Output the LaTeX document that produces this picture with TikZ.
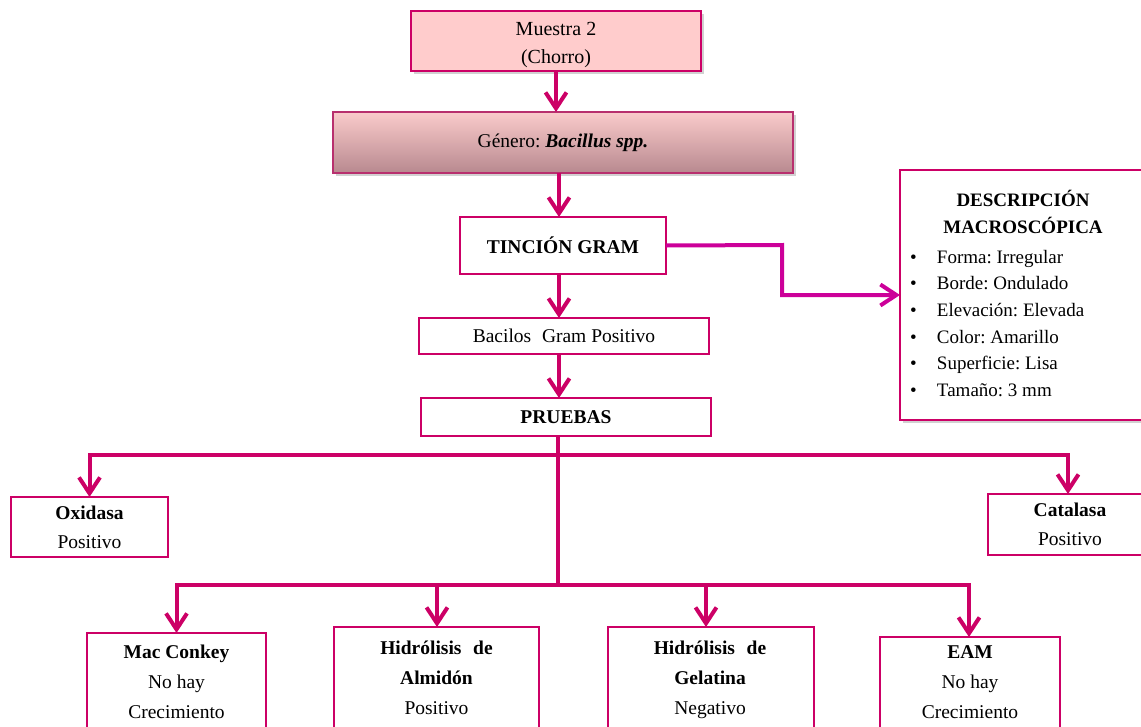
\documentclass[tikz,border=0pt]{standalone}
\usepackage{fontspec}
\setmainfont{Liberation Serif}
\usetikzlibrary{arrows.meta,shadows}
\frenchspacing

\definecolor{mag}{HTML}{CC0066}
\definecolor{magp}{HTML}{CC0099}
\definecolor{pinkfill}{HTML}{FFCCCC}
\definecolor{gtop}{HTML}{FACBCB}
\definecolor{gbot}{HTML}{B8898F}
\definecolor{gborder}{HTML}{B8306E}

\tikzset{
  box/.style={draw=mag, line width=2.5pt, fill=white, rectangle,
    inner sep=0pt, outer sep=0pt, align=center,
    font=\fontsize{19.5}{27}\selectfont},
  softshadow/.style={drop shadow={shadow xshift=3pt, shadow yshift=-3pt,
    fill=black, opacity=0.18}},
  txt/.style={inner sep=0pt, outer sep=0pt, align=center,
    font=\fontsize{19.5}{30}\selectfont},
  link/.style={draw=mag, line width=4pt, line join=miter},
  conn/.style={link, -{Straight Barb[length=16pt,width=21pt]}},
  connp/.style={draw=magp, line width=4pt, line join=miter,
    -{Straight Barb[length=16pt,width=21pt]}},
}

\begin{document}
\begin{tikzpicture}[x=1pt,y=-1pt]
\useasboundingbox (0,0) rectangle (1141,726);

% --- main column ---
\node[box, fill=pinkfill, softshadow, minimum width=290pt, minimum height=60pt]
  (muestra) at (556,41) {};
\node[txt, font=\fontsize{20}{28}\selectfont]
  (muestrat) at (556,45) {Muestra 2\\(Chorro)};
\node[box, draw=gborder, top color=gtop, bottom color=gbot, softshadow,
      minimum width=460pt, minimum height=61pt]
  (genero) at (563,142.5) {Género: \textbf{\textit{Bacillus spp.}}};
\node[box, minimum width=206pt, minimum height=57pt]
  (tincion) at (563,245.5) {\textbf{TINCIÓN GRAM}};
\node[box, minimum width=290pt, minimum height=36pt]
  (bacilos) at (564,336) {Bacilos\hspace{0.3em} Gram Positivo};
\node[box, minimum width=290pt, minimum height=38pt]
  (pruebas) at (566,417) {\textbf{PRUEBAS}};

% --- macroscopic description panel ---
\node[box, softshadow, minimum width=252pt, minimum height=250pt]
  (desc) at (1026,295) {};
\node[txt, font=\fontsize{19}{27}\selectfont, anchor=north]
  (desctitle) at (1023,190) {\textbf{DESCRIPCIÓN}\\\textbf{MACROSCÓPICA}};
\node[txt, font=\fontsize{19}{26.7}\selectfont, align=left, anchor=north west]
  (desclist) at (910,250) {%
  \makebox[27pt][l]{\textbullet}Forma: Irregular\\
  \makebox[27pt][l]{\textbullet}Borde: Ondulado\\
  \makebox[27pt][l]{\textbullet}Elevación: Elevada\\
  \makebox[27pt][l]{\textbullet}Color: Amarillo\\
  \makebox[27pt][l]{\textbullet}Superficie: Lisa\\
  \makebox[27pt][l]{\textbullet}Tamaño: 3 mm};

% --- first level of tests ---
\node[box, minimum width=157pt, minimum height=60pt, font=\fontsize{19.5}{29}\selectfont]
  (oxi) at (89.5,527) {\textbf{Oxidasa}\\Positivo};
\node[box, minimum width=164pt, minimum height=61pt, font=\fontsize{19.5}{29}\selectfont]
  (cat) at (1070,524.5) {\textbf{Catalasa}\\Positivo};

% --- second level of tests ---
\node[box, minimum width=179pt, minimum height=127pt] (mac) at (176.5,696.5) {};
\node[txt, anchor=north] (mact) at (176.5,645) {\textbf{Mac Conkey}\\No hay\\Crecimiento};

\node[box, minimum width=205pt, minimum height=133pt] (alm) at (436.5,693.5) {};
\node[txt, anchor=north] (almt) at (436.5,641) {\textbf{Hidrólisis\hspace{0.6em}de}\\\textbf{Almidón}\\Positivo};

\node[box, minimum width=206pt, minimum height=133pt] (gel) at (711,693.5) {};
\node[txt, anchor=north] (gelt) at (710,641) {\textbf{Hidrólisis\hspace{0.6em}de}\\\textbf{Gelatina}\\Negativo};

\node[box, minimum width=180pt, minimum height=123pt] (eam) at (970,698.5) {};
\node[txt, anchor=north] (eamt) at (970,646) {\textbf{EAM}\\No hay\\Crecimiento};

% --- connectors ---
\coordinate (spine) at (559,0);
\coordinate (catx) at (1068,0);
\coordinate (eamx) at (969,0);
\draw[conn] (muestra.south) -- (muestra.south |- genero.north);
\draw[conn] (genero.south -| spine) -- (spine |- tincion.north);
\draw[conn] (tincion.south -| spine) -- (spine |- bacilos.north);
\draw[conn] (bacilos.south -| spine) -- (spine |- pruebas.north);

\coordinate (bend) at (782,245);
\draw[connp] (tincion.east) -- (bend) |- (desc.west);

\coordinate (split1) at (558,455);
\coordinate (split2) at (558,585);
\draw[link] (pruebas.south -| split1) -- (split2);
\draw[conn] (split1) -| (oxi.north);
\draw[conn] (split1) -| (catx |- cat.north);
\draw[conn] (split2) -| (mac.north);
\draw[conn] (split2) -| (eamx |- eam.north);
\coordinate (dropA) at (437,585);
\coordinate (dropG) at (706,585);
\draw[conn] (dropA) -- (dropA |- alm.north);
\draw[conn] (dropG) -- (dropG |- gel.north);
\end{tikzpicture}
\end{document}
